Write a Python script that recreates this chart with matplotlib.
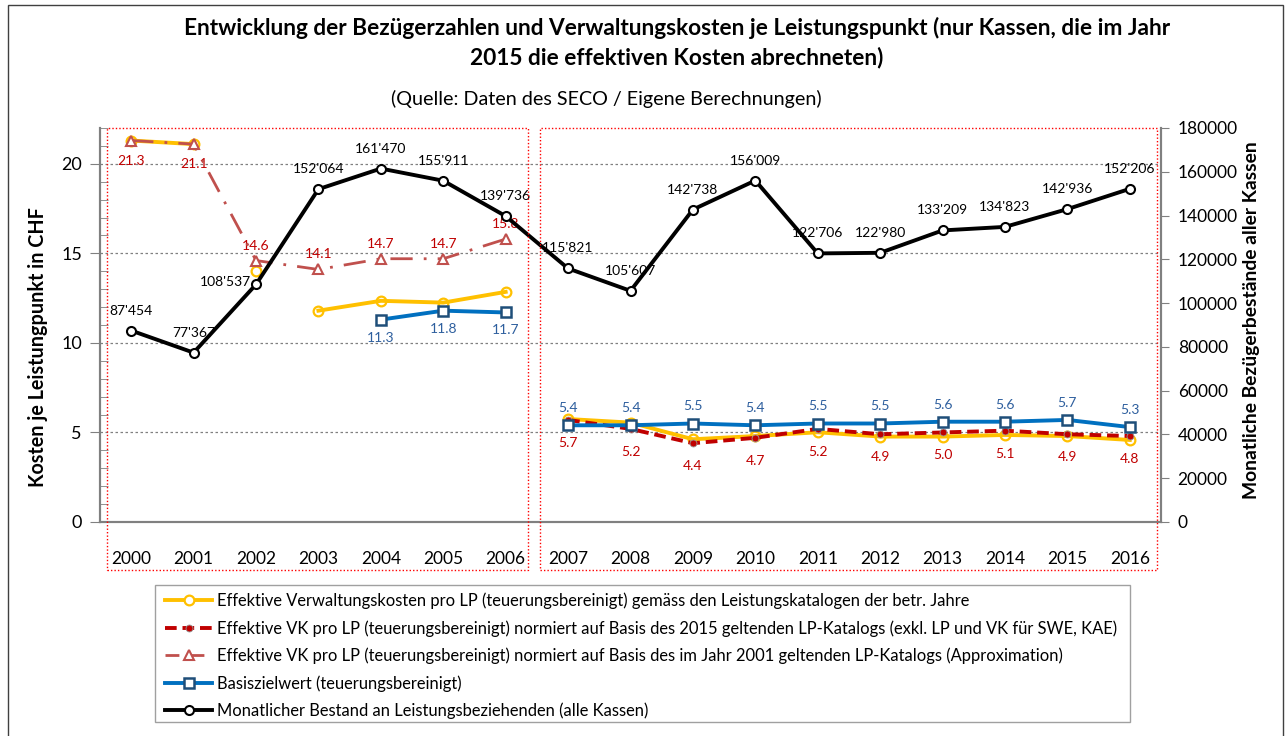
import numpy as np
import matplotlib.pyplot as plt
from matplotlib.patches import Rectangle
from matplotlib.lines import Line2D

plt.rcParams['font.family'] = ['Lato', 'DejaVu Sans']

# Daten
years = list(range(2000, 2017))
bestand = [87454, 77367, 108537, 152064, 161470, 155911, 139736, 115821, 105607,
           142738, 156009, 122706, 122980, 133209, 134823, 142936, 152206]
vk_eff = [21.3, 21.1, 14.0, 11.8, 12.35, 12.25, 12.85, 5.75, 5.55, 4.62, 4.8,
          5.01, 4.77, 4.77, 4.86, 4.8, 4.58]
vk_eff_parts = [(0, 2), (2, 3), (3, 7), (7, 17)]
nan = np.nan
vk_2015 = [nan] * 7 + [5.7, 5.2, 4.4, 4.7, 5.2, 4.9, 5.0, 5.1, 4.9, 4.8]
vk_2001 = [21.3, 21.1, 14.6, 14.1, 14.7, 14.7, 15.8] + [nan] * 10
basis = [nan] * 4 + [11.3, 11.8, 11.7, 5.4, 5.4, 5.5, 5.4, 5.5, 5.5, 5.6, 5.6, 5.7, 5.3]
basis_parts = [(4, 7), (7, 17)]

legend_labels = [
    "Effektive Verwaltungskosten pro LP (teuerungsbereinigt) gemäss den Leistungskatalogen der betr. Jahre",
    "Effektive VK pro LP (teuerungsbereinigt) normiert auf Basis des 2015 geltenden LP-Katalogs (exkl. LP und VK für SWE, KAE)",
    "Effektive VK pro LP (teuerungsbereinigt) normiert auf Basis des im Jahr 2001 geltenden LP-Katalogs (Approximation)",
    "Basiszielwert (teuerungsbereinigt)",
    "Monatlicher Bestand an Leistungsbeziehenden (alle Kassen)",
]

YELLOW = '#FFC000'
DRED = '#C00000'
TRED = '#C0504D'
BLUE = '#0070C0'
DBLUE = '#1F4E79'
LBLUE = '#2E5F9E'

W, H = 1287, 736
fig = plt.figure(figsize=(W / 100, H / 100), dpi=100)
ax = fig.add_axes([100 / W, 1 - 522 / H, 1061 / W, 394 / H])
ax2 = ax.twinx()

x = np.arange(len(years))

# Effektive Kosten (gelb), in Teilstücken
for a, b in vk_eff_parts:
    ax.plot(x[a:b], vk_eff[a:b], color=YELLOW, lw=2.8, marker='o', ms=7,
            mfc='none', mec=YELLOW, mew=1.6, zorder=3)
# 2015er Katalog (rot gestrichelt)
ax.plot(x, vk_2015, color=DRED, lw=2.8, ls=(0, (3, 1.5)), marker='o', ms=5,
        mfc=DRED, mec='#999999', mew=0.6, zorder=4)
# 2001er Katalog (Dreiecke)
ax.plot(x, vk_2001, color=TRED, lw=2, ls=(0, (8, 4, 1, 4)), marker='^', ms=7,
        mfc='white', mec=TRED, mew=1.5, zorder=4)
# Basiszielwert
for a, b in basis_parts:
    ax.plot(x[a:b], basis[a:b], color=BLUE, lw=2.8, marker='s', ms=6.5,
            mfc='white', mec=DBLUE, mew=1.8, zorder=5)

# Bestand (rechte Achse)
ax2.plot(x, bestand, color='black', lw=2.8, marker='o', ms=6.5, mfc='white',
         mec='black', mew=1.5, zorder=3)

# Datenbeschriftungen
for i, v in enumerate(vk_2001):
    if np.isnan(v):
        continue
    dy = -20 if i < 2 else 15
    ax.annotate(f"{v:.1f}", (x[i], v), xytext=(0, dy), textcoords='offset pixels',
                ha='center', va='center', color=DRED, fontsize=10)
for i, v in enumerate(vk_2015):
    if np.isnan(v):
        continue
    ax.annotate(f"{v:.1f}", (x[i], v), xytext=(0, -23), textcoords='offset pixels',
                ha='center', va='center', color=DRED, fontsize=10)
for i, v in enumerate(basis):
    if np.isnan(v):
        continue
    dy = -18 if i < 7 else 17
    ax.annotate(f"{v:.1f}", (x[i], v), xytext=(0, dy), textcoords='offset pixels',
                ha='center', va='center', color=LBLUE, fontsize=10)
for i, v in enumerate(bestand):
    txt = f"{v:,}".replace(",", "'")
    if i == 2:
        off, ha = (-5, 2), 'right'
    else:
        off, ha = (0, 20), 'center'
    ax2.annotate(txt, (x[i], v), xytext=off, textcoords='offset pixels',
                 ha=ha, va='center', color='black', fontsize=10)

# Achsen
ax.set_xlim(-0.5, 16.5)
ax.set_ylim(0, 22)
ax2.set_ylim(0, 180000)
ax.set_yticks([0, 5, 10, 15, 20])
ax.set_yticks(np.arange(0, 23, 1), minor=True)
ax2.set_yticks(np.arange(0, 180001, 20000))
ax.set_xticks(x)
ax.set_xticklabels(years, fontsize=12.5)
ax.tick_params(axis='x', length=0, pad=21)
ax.tick_params(axis='y', which='major', direction='out', length=7, colors='#808080',
               labelcolor='black', labelsize=13, pad=6)
ax.tick_params(axis='y', which='minor', direction='in', length=6, colors='#808080')
ax2.tick_params(axis='y', direction='out', length=6, colors='#808080',
                labelcolor='black', labelsize=12.5, pad=6)
ax.yaxis.grid(True, which='major', color='#808080', ls=(0, (2, 2)), lw=0.9)
ax.set_axisbelow(True)
for a in (ax, ax2):
    a.spines['top'].set_visible(False)
    for s in ('left', 'right', 'bottom'):
        a.spines[s].set_color('#808080')
        a.spines[s].set_linewidth(1.5)
ax.patch.set_visible(False)

# Achsentitel
fig.text(38 / W, 1 - 347 / H, "Kosten je Leistungpunkt in CHF", rotation=90,
         ha='center', va='center', fontsize=14.2, fontweight='bold')
fig.text(1252 / W, 1 - 320 / H, "Monatliche Bezügerbestände aller Kassen", rotation=90,
         ha='center', va='center', fontsize=13.9, fontweight='bold')

# Titel
fig.text(677 / W, 1 - 28 / H, "Entwicklung der Bezügerzahlen und Verwaltungskosten je Leistungspunkt (nur Kassen, die im Jahr",
         ha='center', va='center', fontsize=16.3, fontweight='bold')
fig.text(677 / W, 1 - 58 / H, "2015 die effektiven Kosten abrechneten)",
         ha='center', va='center', fontsize=16.3, fontweight='bold')
fig.text(606 / W, 1 - 99 / H, "(Quelle: Daten des SECO / Eigene Berechnungen)",
         ha='center', va='center', fontsize=14.2)

# rote Rahmen fuer die beiden Perioden
for x0, x1 in [(107, 528), (540, 1157)]:
    fig.add_artist(Rectangle((x0 / W, 1 - 570 / H), (x1 - x0) / W, 442 / H,
                             transform=fig.transFigure, fill=False, ec='red',
                             lw=1, ls=(0, (1, 1.5))))

# Aussenrahmen
fig.add_artist(Rectangle((8 / W, -0.05), 1275 / W, 1 - 5 / H + 0.05,
                         transform=fig.transFigure, fill=False, ec='#404040', lw=1))

# Legende
fig.add_artist(Rectangle((155 / W, 1 - 722 / H), 975 / W, 137 / H,
                         transform=fig.transFigure, fill=False, ec='#A0A0A0', lw=1))
handles = [
    Line2D([], [], color=YELLOW, lw=2.8, marker='o', ms=7, mfc='white', mec=YELLOW, mew=1.6),
    Line2D([], [], color=DRED, lw=2.8, ls=(0, (3, 1.5)), marker='o', ms=5, mfc=DRED,
           mec='#999999', mew=0.6),
    Line2D([], [], color=TRED, lw=2, ls=(0, (5, 4)), marker='^', ms=7, mfc='white',
           mec=TRED, mew=1.5),
    Line2D([], [], color=BLUE, lw=2.8, marker='s', ms=6.5, mfc='white', mec=DBLUE, mew=1.8),
    Line2D([], [], color='black', lw=2.8, marker='o', ms=6.5, mfc='white', mec='black', mew=1.5),
]
fig.legend(handles, legend_labels, loc='upper left', bbox_to_anchor=(153 / W, 1 - 581 / H),
           frameon=False, fontsize=11.9, handlelength=2.9, handletextpad=0.3,
           labelspacing=0.66, borderpad=0.2)

fig.savefig('out.png', dpi=100)
